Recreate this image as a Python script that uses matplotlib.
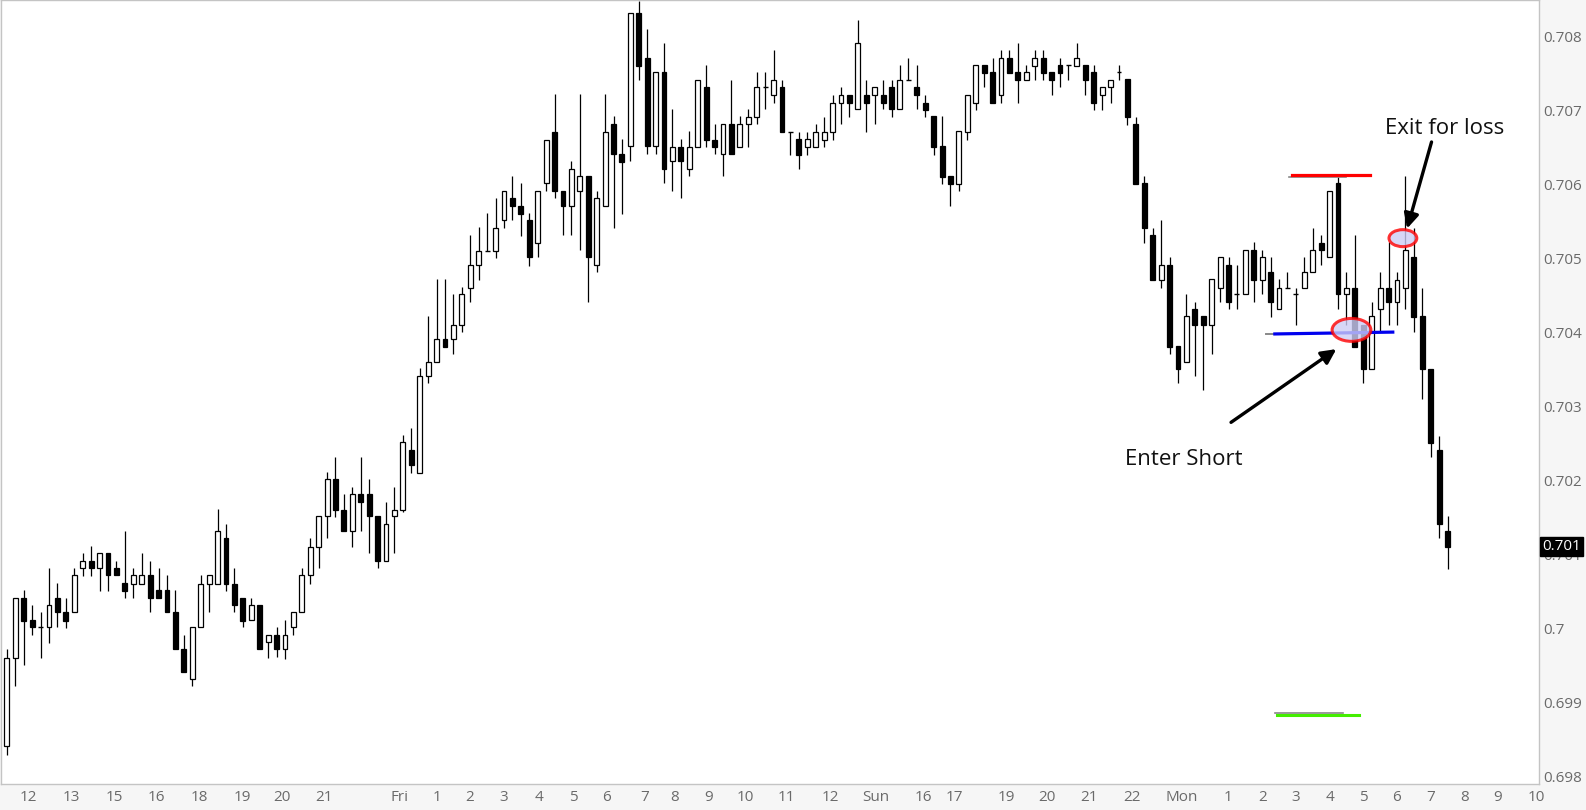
import numpy as np
import matplotlib.pyplot as plt
from matplotlib.patches import Ellipse

plt.rcParams['font.family'] = ['Open Sans', 'DejaVu Sans']

# 15 minute candles, prices
opens = [
    0.69841, 0.69961, 0.70041, 0.70012, 0.70002, 0.70002, 0.70041, 0.70022, 0.70022, 0.70082,
    0.70091, 0.70082, 0.70102, 0.70082, 0.70062, 0.70061, 0.70061, 0.70072, 0.70052, 0.70052,
    0.70022, 0.69972, 0.69932, 0.70002, 0.70061, 0.70061, 0.70122, 0.70061, 0.70041, 0.70012,
    0.70032, 0.69982, 0.69991, 0.69972, 0.70002, 0.70022, 0.70072, 0.70111, 0.70152, 0.70202,
    0.70161, 0.70132, 0.70182, 0.70182, 0.70152, 0.70091, 0.70152, 0.70161, 0.70241, 0.70211,
    0.70341, 0.70361, 0.70392, 0.70392, 0.70411, 0.70461, 0.70492, 0.70511, 0.70511, 0.70552,
    0.70582, 0.70572, 0.70552, 0.70522, 0.70602, 0.70672, 0.70592, 0.70572, 0.70592, 0.70612,
    0.70492, 0.70572, 0.70682, 0.70642, 0.70652, 0.70832, 0.70772, 0.70652, 0.70752, 0.70632,
    0.70651, 0.70622, 0.70651, 0.70732, 0.70661, 0.70642, 0.70682, 0.70651, 0.70682, 0.70692,
    0.70732, 0.70722, 0.70732, 0.70672, 0.70662, 0.70651, 0.70651, 0.70661, 0.70672, 0.70711,
    0.70722, 0.70702, 0.70722, 0.70722, 0.70722, 0.70732, 0.70702, 0.70742, 0.70732, 0.70711,
    0.70693, 0.70652, 0.70612, 0.70601, 0.70672, 0.70711, 0.70762, 0.70752, 0.70722, 0.70772,
    0.70752, 0.70742, 0.70761, 0.70772, 0.70752, 0.70762, 0.70762, 0.70761, 0.70762, 0.70752,
    0.70722, 0.70732, 0.70752, 0.70743, 0.70682, 0.70602, 0.70532, 0.70472, 0.70492, 0.70382,
    0.70361, 0.70432, 0.70423, 0.70411, 0.70461, 0.70492, 0.70452, 0.70452, 0.70512, 0.70472,
    0.70482, 0.70432, 0.70461, 0.70452, 0.70461, 0.70482, 0.70522, 0.70502, 0.70602, 0.70452,
    0.70461, 0.70411, 0.70351, 0.70432, 0.70461, 0.70442, 0.70461, 0.70502, 0.70423, 0.70351,
    0.70241, 0.70132,
]
highs = [
    0.69972, 0.70041, 0.70052, 0.70032, 0.70023, 0.70082, 0.70062, 0.70041, 0.70082, 0.70102,
    0.70112, 0.70102, 0.70102, 0.70091, 0.70132, 0.70082, 0.70102, 0.70091, 0.70082, 0.70072,
    0.70052, 0.69991, 0.70002, 0.70072, 0.70072, 0.70162, 0.70141, 0.70082, 0.70041, 0.70041,
    0.70032, 0.69991, 0.70002, 0.70012, 0.70022, 0.70082, 0.70122, 0.70152, 0.70212, 0.70232,
    0.70182, 0.70191, 0.70232, 0.70202, 0.70152, 0.70172, 0.70191, 0.70262, 0.70272, 0.70352,
    0.70423, 0.70473, 0.70473, 0.70452, 0.70462, 0.70532, 0.70543, 0.70562, 0.70582, 0.70592,
    0.70612, 0.70602, 0.70562, 0.70592, 0.70661, 0.70723, 0.70592, 0.70632, 0.70723, 0.70612,
    0.70592, 0.70723, 0.70693, 0.70662, 0.70832, 0.70848, 0.70811, 0.70752, 0.70792, 0.70702,
    0.70662, 0.70673, 0.70742, 0.70762, 0.70682, 0.70682, 0.70742, 0.70693, 0.70702, 0.70752,
    0.70752, 0.70782, 0.70742, 0.70672, 0.70672, 0.70672, 0.70682, 0.70692, 0.70722, 0.70732,
    0.70722, 0.70823, 0.70742, 0.70732, 0.70742, 0.70742, 0.70762, 0.70772, 0.70762, 0.70721,
    0.70693, 0.70693, 0.70612, 0.70673, 0.70722, 0.70762, 0.70762, 0.70772, 0.70782, 0.70782,
    0.70792, 0.70762, 0.70782, 0.70782, 0.70752, 0.70772, 0.70762, 0.70792, 0.70762, 0.70762,
    0.70732, 0.70742, 0.70762, 0.70743, 0.70692, 0.70612, 0.70542, 0.70552, 0.70502, 0.70382,
    0.70452, 0.70442, 0.70423, 0.70473, 0.70502, 0.70502, 0.70492, 0.70512, 0.70523, 0.70512,
    0.70502, 0.70473, 0.70482, 0.70461, 0.70502, 0.70542, 0.70532, 0.70592, 0.70610, 0.70482,
    0.70532, 0.70411, 0.70442, 0.70482, 0.70523, 0.70482, 0.70612, 0.70542, 0.70461, 0.70351,
    0.70261, 0.70152,
]
lows = [
    0.69829, 0.69922, 0.69951, 0.69991, 0.69961, 0.69981, 0.70002, 0.70001, 0.70022, 0.70071,
    0.70071, 0.70051, 0.70051, 0.70072, 0.70041, 0.70041, 0.70061, 0.70022, 0.70041, 0.70022,
    0.69972, 0.69941, 0.69922, 0.70002, 0.70022, 0.70061, 0.70051, 0.70022, 0.70002, 0.70012,
    0.69972, 0.69961, 0.69962, 0.69959, 0.69991, 0.70022, 0.70061, 0.70082, 0.70122, 0.70151,
    0.70132, 0.70111, 0.70132, 0.70102, 0.70082, 0.70091, 0.70102, 0.70158, 0.70211, 0.70211,
    0.70332, 0.70361, 0.70381, 0.70372, 0.70401, 0.70442, 0.70472, 0.70511, 0.70501, 0.70542,
    0.70552, 0.70531, 0.70491, 0.70502, 0.70592, 0.70582, 0.70532, 0.70532, 0.70512, 0.70442,
    0.70482, 0.70572, 0.70542, 0.70561, 0.70632, 0.70742, 0.70642, 0.70642, 0.70602, 0.70592,
    0.70582, 0.70612, 0.70651, 0.70651, 0.70642, 0.70612, 0.70642, 0.70651, 0.70651, 0.70682,
    0.70702, 0.70711, 0.70672, 0.70641, 0.70622, 0.70641, 0.70651, 0.70651, 0.70661, 0.70682,
    0.70692, 0.70702, 0.70672, 0.70682, 0.70702, 0.70692, 0.70702, 0.70742, 0.70702, 0.70692,
    0.70641, 0.70601, 0.70572, 0.70592, 0.70661, 0.70701, 0.70732, 0.70711, 0.70711, 0.70751,
    0.70711, 0.70742, 0.70742, 0.70742, 0.70722, 0.70732, 0.70742, 0.70761, 0.70722, 0.70701,
    0.70701, 0.70711, 0.70742, 0.70681, 0.70601, 0.70522, 0.70472, 0.70461, 0.70372, 0.70332,
    0.70361, 0.70341, 0.70323, 0.70372, 0.70442, 0.70432, 0.70432, 0.70452, 0.70442, 0.70452,
    0.70422, 0.70432, 0.70461, 0.70411, 0.70461, 0.70482, 0.70492, 0.70502, 0.70432, 0.70411,
    0.70381, 0.70332, 0.70351, 0.70401, 0.70411, 0.70411, 0.70432, 0.70401, 0.70311, 0.70232,
    0.70122, 0.70081,
]
closes = [
    0.69961, 0.70041, 0.70011, 0.70002, 0.70002, 0.70032, 0.70022, 0.70011, 0.70072, 0.70091,
    0.70082, 0.70102, 0.70072, 0.70072, 0.70051, 0.70072, 0.70072, 0.70041, 0.70041, 0.70022,
    0.69972, 0.69941, 0.70002, 0.70061, 0.70072, 0.70132, 0.70061, 0.70032, 0.70011, 0.70032,
    0.69972, 0.69991, 0.69972, 0.69991, 0.70022, 0.70072, 0.70111, 0.70152, 0.70202, 0.70161,
    0.70132, 0.70182, 0.70172, 0.70152, 0.70091, 0.70141, 0.70161, 0.70252, 0.70222, 0.70341,
    0.70361, 0.70392, 0.70381, 0.70411, 0.70452, 0.70492, 0.70511, 0.70511, 0.70542, 0.70592,
    0.70572, 0.70561, 0.70502, 0.70592, 0.70661, 0.70592, 0.70572, 0.70622, 0.70612, 0.70502,
    0.70582, 0.70672, 0.70642, 0.70631, 0.70832, 0.70761, 0.70652, 0.70752, 0.70622, 0.70651,
    0.70632, 0.70651, 0.70742, 0.70661, 0.70651, 0.70682, 0.70642, 0.70682, 0.70692, 0.70732,
    0.70732, 0.70742, 0.70672, 0.70672, 0.70641, 0.70662, 0.70672, 0.70672, 0.70711, 0.70722,
    0.70711, 0.70792, 0.70711, 0.70732, 0.70711, 0.70702, 0.70742, 0.70742, 0.70722, 0.70701,
    0.70651, 0.70611, 0.70601, 0.70673, 0.70722, 0.70762, 0.70751, 0.70711, 0.70772, 0.70751,
    0.70742, 0.70752, 0.70772, 0.70751, 0.70742, 0.70751, 0.70762, 0.70772, 0.70742, 0.70711,
    0.70732, 0.70742, 0.70752, 0.70692, 0.70601, 0.70542, 0.70472, 0.70492, 0.70381, 0.70351,
    0.70423, 0.70411, 0.70411, 0.70473, 0.70502, 0.70442, 0.70452, 0.70512, 0.70472, 0.70502,
    0.70442, 0.70461, 0.70461, 0.70452, 0.70482, 0.70512, 0.70512, 0.70592, 0.70452, 0.70461,
    0.70381, 0.70351, 0.70423, 0.70461, 0.70442, 0.70472, 0.70512, 0.70422, 0.70351, 0.70251,
    0.70141, 0.70111,
]

xtick_pos = [2.5, 7.6, 12.75, 17.8, 22.8, 27.9, 32.6, 37.6, 46.6, 51.0, 54.9, 59.0, 63.1,
             67.2, 71.2, 75.7, 79.2, 83.3, 87.6, 92.5, 97.8, 103.1, 108.8, 112.5, 118.6,
             123.4, 128.5, 133.6, 139.5, 145, 149, 153, 157, 161, 165, 169, 173, 177, 181.5]
xtick_labels = ['12', '13', '15', '16', '18', '19', '20', '21', 'Fri', '1', '2', '3', '4',
                '5', '6', '7', '8', '9', '10', '11', '12', 'Sun', '16', '17', '19',
                '20', '21', '22', 'Mon', '1', '2', '3', '4', '5', '6', '7', '8', '9', '10']
yticks = [0.698, 0.699, 0.700, 0.701, 0.702, 0.703, 0.704, 0.705, 0.706, 0.707, 0.708]

stop_price = 0.70613
entry_price = 0.70399
target_price = 0.69883

o = np.array(opens)
h = np.array(highs)
l = np.array(lows)
c = np.array(closes)
idx = np.arange(len(o))

fig = plt.figure(figsize=(15.86, 8.10), dpi=100, facecolor='#f6f6f6')
ax = fig.add_axes([0.0006, 0.0317, 0.9700, 0.9680])
ax.set_facecolor('white')

# wicks behind the bodies
ax.vlines(idx, l, h, color='black', linewidth=0.9, zorder=2)
up = c > o
down = c < o
flat = c == o
bw = 0.58
ax.bar(idx[up], (c - o)[up], bottom=o[up], width=bw, color='white',
       edgecolor='black', linewidth=0.9, zorder=3)
ax.bar(idx[down], (o - c)[down], bottom=c[down], width=bw, color='black',
       edgecolor='black', linewidth=0.9, zorder=3)
ax.hlines(o[flat], idx[flat] - bw / 2, idx[flat] + bw / 2, color='black',
          linewidth=1.0, zorder=3)

# stop / entry / target levels
ax.plot([152.2, 159.0], [stop_price - 0.00002] * 2, color='#888888', lw=1.2, zorder=4)
ax.plot([152.5, 161.8], [stop_price] * 2, color='#ff0000', lw=2.3, zorder=5)
ax.plot([149.5, 151.0], [entry_price] * 2, color='#888888', lw=1.4, zorder=4)
ax.plot([150.5, 164.5], [entry_price - 0.000005, entry_price + 0.00002],
        color='#0000ee', lw=2.3, zorder=5)
ax.plot([150.5, 158.6], [target_price + 0.00003] * 2, color='#888888', lw=1.2, zorder=4)
ax.plot([150.7, 160.5], [target_price] * 2, color='#44ee00', lw=2.2, zorder=5)

# circles at entry and exit
ax.add_patch(Ellipse((159.6, 0.70404), 4.6, 0.00031, facecolor='#cdcdf6', alpha=0.8,
                     edgecolor='#ff0000', lw=2.2, zorder=6))
ax.add_patch(Ellipse((165.7, 0.70528), 3.3, 0.00023, facecolor='#cdcdf6', alpha=0.8,
                     edgecolor='#ff0000', lw=2.2, zorder=6))

arrow = dict(arrowstyle='-|>', color='black', lw=2.4, mutation_scale=22, shrinkA=0, shrinkB=0)
ax.annotate('', xy=(157.8, 0.70378), xytext=(145.3, 0.70279), arrowprops=arrow, zorder=7)
ax.annotate('', xy=(166.2, 0.70541), xytext=(169.1, 0.70658), arrowprops=arrow, zorder=7)
ax.text(139.7, 0.70229, 'Enter Short', fontsize=16, ha='center', va='center', color='#111111')
ax.text(170.6, 0.70676, 'Exit for loss', fontsize=16, ha='center', va='center', color='#111111')

ax.set_xlim(-0.71, 181.9)
ax.set_ylim(0.697897, 0.708496)

ax.set_xticks(xtick_pos)
ax.set_xticklabels(xtick_labels)
ax.set_yticks(yticks)
ax.set_yticklabels([f'{v:.3f}'.rstrip('0').rstrip('.') for v in yticks])
ax.yaxis.tick_right()
ax.tick_params(axis='both', length=0, labelsize=11, labelcolor='#6a6a6a')
ax.tick_params(axis='y', pad=3)
ax.tick_params(axis='x', pad=4)
for s in ax.spines.values():
    s.set_color('#c4c4c4')
    s.set_linewidth(1.0)

# last price tag, drawn over the regular 0.701 tick label as in the source
ax.text(1.002, c[-1], f'{c[-1]:.3f}', transform=ax.get_yaxis_transform(), fontsize=11,
        color='white', ha='left', va='center', zorder=10, clip_on=False,
        bbox=dict(boxstyle='square,pad=0.15', facecolor='black', edgecolor='black'))

fig.savefig('out.png', dpi=100, facecolor=fig.get_facecolor())
